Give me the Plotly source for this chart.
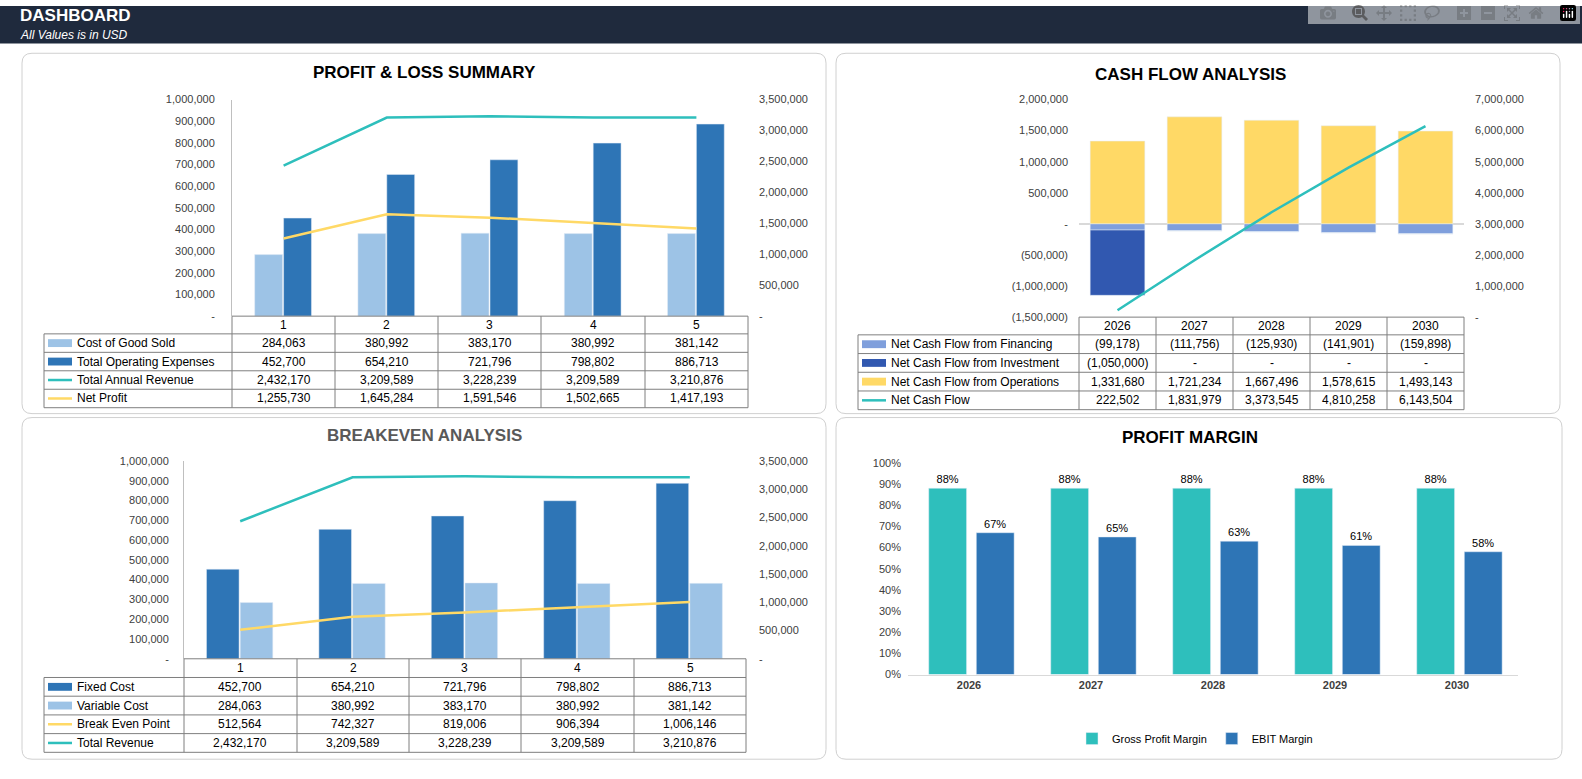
import plotly.graph_objects as go

W, H = 1582, 779

# ---- data ----
years_idx = [1, 2, 3, 4, 5]
cogs = [284063, 380992, 383170, 380992, 381142]
opex = [452700, 654210, 721796, 798802, 886713]
revenue = [2432170, 3209589, 3228239, 3209589, 3210876]
net_profit = [1255730, 1645284, 1591546, 1502665, 1417193]

cf_years = [2026, 2027, 2028, 2029, 2030]
cf_financing = [-99178, -111756, -125930, -141901, -159898]
cf_investment = [-1050000, 0, 0, 0, 0]
cf_operations = [1331680, 1721234, 1667496, 1578615, 1493143]
cf_net = [222502, 1831979, 3373545, 4810258, 6143504]

fixed_cost = [452700, 654210, 721796, 798802, 886713]
variable_cost = [284063, 380992, 383170, 380992, 381142]
break_even = [512564, 742327, 819006, 906394, 1006146]
total_revenue = [2432170, 3209589, 3228239, 3209589, 3210876]

gross_margin = [0.88, 0.88, 0.88, 0.88, 0.88]
ebit_margin = [0.67, 0.65, 0.63, 0.61, 0.58]

LIGHT = "#9dc3e6"
DARK = "#2e75b6"
TEAL = "#2ebfbc"
YELLOW = "#ffd966"
FIN = "#7f9fdc"
INV = "#3158b0"
FONT = "Liberation Sans, Arial, sans-serif"


def px(p):
    return p / W


def py(p):
    return 1 - p / H


def fmt(v):
    if v == 0:
        return "-"
    if v < 0:
        return "({:,})".format(-v)
    return "{:,}".format(v)


fig = go.Figure()
shapes = []
annots = []


def note(x, y, text, size=12, color="black", xanchor="center"):
    annots.append(dict(x=px(x), y=py(y), xref="paper", yref="paper", text=text, showarrow=False,
                       xanchor=xanchor, yanchor="middle", font=dict(size=size, color=color)))


# ---- header ----
shapes.append(dict(type="rect", xref="paper", yref="paper", x0=0, x1=1, y0=py(38), y1=1,
                   fillcolor="#1f2a3d", line_width=0, layer="below"))
note(18, 10, "<b>DASHBOARD</b>", 17, "white", "left")
note(18, 29, "<i>All Values is in USD</i>", 12, "white", "left")


def panel(x0, y0, x1, y1, r=10):
    rx, ry = r / W, r / H
    a0, a1, b0, b1 = px(x0), px(x1), py(y1), py(y0)
    path = (f"M {a0+rx},{b1} L {a1-rx},{b1} Q {a1},{b1} {a1},{b1-ry} L {a1},{b0+ry} "
            f"Q {a1},{b0} {a1-rx},{b0} L {a0+rx},{b0} Q {a0},{b0} {a0},{b0+ry} "
            f"L {a0},{b1-ry} Q {a0},{b1} {a0+rx},{b1} Z")
    shapes.append(dict(type="path", xref="paper", yref="paper", path=path,
                       line=dict(color="#d0d0d0", width=1), fillcolor="white", layer="below"))


panel(22, 48, 826, 414)
panel(836, 48, 1560, 414)
panel(22, 418, 826, 765)
panel(836, 418, 1562, 765)

note(424, 68, "<b>PROFIT &amp; LOSS SUMMARY</b>", 17)
note(1190, 70, "<b>CASH FLOW ANALYSIS</b>", 17)
note(424, 436, "<b>BREAKEVEN ANALYSIS</b>", 17, "#595959")
note(1190, 438, "<b>PROFIT MARGIN</b>", 17)


def line(x0, y0, x1, y1, color="#7f7f7f", w=1):
    shapes.append(dict(type="line", xref="paper", yref="paper", x0=px(x0), x1=px(x1),
                       y0=py(y0), y1=py(y1), line=dict(color=color, width=w)))


def table(lx0, edges, ytop, yhead, ybot, cats, rows):
    n = len(rows)
    rh = (ybot - yhead) / n
    line(edges[0], ytop, edges[-1], ytop)
    for e in edges:
        line(e, ytop, e, ybot)
    line(lx0, yhead, lx0, ybot)
    for i in range(n + 1):
        line(lx0, yhead + i * rh, edges[-1], yhead + i * rh)
    for j, c in enumerate(cats):
        note((edges[j] + edges[j + 1]) / 2, (ytop + yhead) / 2, str(c))
    for i, (name, vals, color, kind) in enumerate(rows):
        yc = yhead + (i + 0.5) * rh
        if kind == "bar":
            shapes.append(dict(type="rect", xref="paper", yref="paper", x0=px(lx0 + 4), x1=px(lx0 + 28),
                               y0=py(yc + 4), y1=py(yc - 4), fillcolor=color, line_width=0))
        else:
            line(lx0 + 4, yc, lx0 + 28, yc, color, 2.5)
        note(lx0 + 31, yc, name, xanchor="left")
        for j, v in enumerate(vals):
            note((edges[j] + edges[j + 1]) / 2, yc, fmt(v))


# ---- panel 1: P&L ----
fig.add_bar(x=years_idx, y=cogs, marker_color=LIGHT, width=0.27, offset=-0.28, xaxis="x", yaxis="y",
            showlegend=False)
fig.add_bar(x=years_idx, y=opex, marker_color=DARK, width=0.27, offset=0.0, xaxis="x", yaxis="y",
            showlegend=False)
fig.add_scatter(x=years_idx, y=revenue, mode="lines", line=dict(color=TEAL, width=2.5), xaxis="x",
                yaxis="y2", showlegend=False)
fig.add_scatter(x=years_idx, y=net_profit, mode="lines", line=dict(color=YELLOW, width=2.5), xaxis="x",
                yaxis="y2", showlegend=False)
table(44, [232, 335, 438, 541, 645, 748], 315, 333, 408, years_idx, [
    ("Cost of Good Sold", cogs, LIGHT, "bar"),
    ("Total Operating Expenses", opex, DARK, "bar"),
    ("Total Annual Revenue", revenue, TEAL, "line"),
    ("Net Profit", net_profit, YELLOW, "line"),
])

# ---- panel 2: Cash flow ----
fig.add_bar(x=cf_years, y=cf_operations, base=[0] * 5, marker_color=YELLOW, width=0.71, offset=-0.355,
            xaxis="x2", yaxis="y3", showlegend=False)
fig.add_bar(x=cf_years, y=cf_financing, base=[0] * 5, marker_color=FIN, width=0.71, offset=-0.355,
            xaxis="x2", yaxis="y3", showlegend=False)
fig.add_bar(x=cf_years, y=cf_investment, base=cf_financing, marker_color=INV, width=0.71, offset=-0.355,
            xaxis="x2", yaxis="y3", showlegend=False)
fig.add_scatter(x=cf_years, y=cf_net, mode="lines", line=dict(color=TEAL, width=2.5), xaxis="x2",
                yaxis="y4", showlegend=False)
table(858, [1079, 1156, 1233, 1310, 1387, 1464], 316, 334, 410, cf_years, [
    ("Net Cash Flow from Financing", cf_financing, FIN, "bar"),
    ("Net Cash Flow from Investment", cf_investment, INV, "bar"),
    ("Net Cash Flow from Operations", cf_operations, YELLOW, "bar"),
    ("Net Cash Flow", cf_net, TEAL, "line"),
])

# ---- panel 3: Breakeven ----
fig.add_bar(x=years_idx, y=fixed_cost, marker_color=DARK, width=0.29, offset=-0.3, xaxis="x3", yaxis="y5",
            showlegend=False)
fig.add_bar(x=years_idx, y=variable_cost, marker_color=LIGHT, width=0.29, offset=0.0, xaxis="x3",
            yaxis="y5", showlegend=False)
fig.add_scatter(x=years_idx, y=total_revenue, mode="lines", line=dict(color=TEAL, width=2.5), xaxis="x3",
                yaxis="y6", showlegend=False)
fig.add_scatter(x=years_idx, y=break_even, mode="lines", line=dict(color=YELLOW, width=2.5), xaxis="x3",
                yaxis="y6", showlegend=False)
table(44, [184, 297, 409, 521, 634, 746], 663, 682, 758, years_idx, [
    ("Fixed Cost", fixed_cost, DARK, "bar"),
    ("Variable Cost", variable_cost, LIGHT, "bar"),
    ("Break Even Point", break_even, YELLOW, "line"),
    ("Total Revenue", total_revenue, TEAL, "line"),
])

# ---- panel 4: Profit margin ----
fig.add_bar(x=cf_years, y=gross_margin, name="Gross Profit Margin", marker_color=TEAL, width=0.31,
            offset=-0.33, xaxis="x4", yaxis="y7", text=[f"{v:.0%}" for v in gross_margin],
            textposition="outside", textfont=dict(size=11, color="black"), cliponaxis=False)
fig.add_bar(x=cf_years, y=ebit_margin, name="EBIT Margin", marker_color=DARK, width=0.31, offset=0.06,
            xaxis="x4", yaxis="y7", text=[f"{v:.0%}" for v in ebit_margin],
            textposition="outside", textfont=dict(size=11, color="black"), cliponaxis=False)


def num_ticks(lo, hi, step):
    vals = list(range(lo, hi + 1, step))
    return vals, [fmt(v) for v in vals]


tf = dict(size=11, color="#404040")
v1, t1 = num_ticks(0, 1000000, 100000)
v2, t2 = num_ticks(0, 3500000, 500000)
v3, t3 = num_ticks(-1500000, 2000000, 500000)
v4, t4 = num_ticks(0, 7000000, 1000000)
hidden_x = dict(showticklabels=False, showgrid=False, zeroline=False, ticks="")

fig.update_layout(
    width=W, height=H, margin=dict(l=0, r=0, t=0, b=0), paper_bgcolor="white", plot_bgcolor="rgba(0,0,0,0)",
    font=dict(family=FONT, color="black"), barmode="group",
    xaxis=dict(domain=[px(232), px(748)], range=[0.5, 5.5], anchor="y", **hidden_x),
    yaxis=dict(domain=[py(315), py(95)], range=[0, 1000000], tickvals=v1, ticktext=t1, showgrid=False,
               zeroline=False, showline=True, linecolor="#bfbfbf", tickfont=tf, ticklabelstandoff=14,
               anchor="x"),
    yaxis2=dict(overlaying="y", side="right", range=[0, 3500000], tickvals=v2, ticktext=t2,
                showgrid=False, zeroline=False, tickfont=tf, ticklabelstandoff=10, anchor="x"),
    xaxis2=dict(domain=[px(1079), px(1464)], range=[2025.5, 2030.5], anchor="y3", **hidden_x),
    yaxis3=dict(domain=[py(316), py(95)], range=[-1500000, 2000000], tickvals=v3, ticktext=t3,
                showgrid=False, zeroline=True, zerolinecolor="#d9d9d9", tickfont=tf,
                ticklabelstandoff=10, anchor="x2"),
    yaxis4=dict(overlaying="y3", side="right", range=[0, 7000000], tickvals=v4, ticktext=t4,
                showgrid=False, zeroline=False, tickfont=tf, ticklabelstandoff=10, anchor="x2"),
    xaxis3=dict(domain=[px(184), px(746)], range=[0.5, 5.5], anchor="y5", **hidden_x),
    yaxis5=dict(domain=[py(663), py(462)], range=[0, 1000000], tickvals=v1, ticktext=t1, showgrid=False,
                zeroline=False, showline=True, linecolor="#bfbfbf", tickfont=tf, ticklabelstandoff=12,
                anchor="x3"),
    yaxis6=dict(overlaying="y5", side="right", range=[0, 3500000], tickvals=v2, ticktext=t2,
                showgrid=False, zeroline=False, tickfont=tf, ticklabelstandoff=12, anchor="x3"),
    xaxis4=dict(domain=[px(908), px(1518)], range=[2025.5, 2030.5], anchor="y7", tickvals=cf_years,
                ticktext=[f"<b>{y}</b>" for y in cf_years], showgrid=False, zeroline=False, showline=True,
                linecolor="#d9d9d9", tickfont=dict(size=11, color="#404040")),
    yaxis7=dict(domain=[py(679), py(464)], range=[0, 1.0], dtick=0.1, tickformat=".0%", showgrid=False,
                zeroline=False, tickfont=tf, ticklabelstandoff=6, anchor="x4"),
    legend=dict(orientation="h", x=px(1195), xanchor="center", y=py(744), yanchor="middle",
                font=dict(size=11), bgcolor="rgba(0,0,0,0)"),
    shapes=shapes, annotations=annots,
)

fig.write_html("out.html", post_script="document.body.style.margin='0';document.body.style.overflow='hidden';")
